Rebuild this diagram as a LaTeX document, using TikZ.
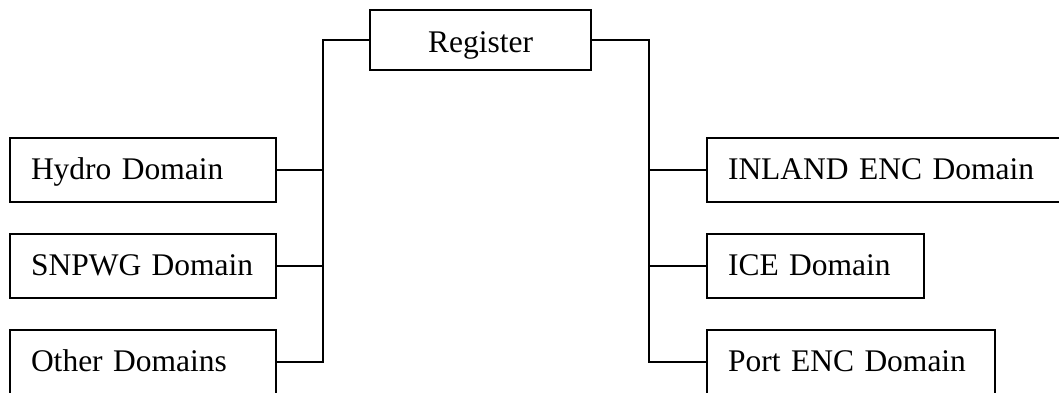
\documentclass[tikz,border=0pt]{standalone}
\usepackage{fontspec}
\setmainfont{Liberation Serif}
\begin{document}
\begin{tikzpicture}[x=1pt,y=-1pt,
  box/.style={draw, line width=2pt, inner ysep=0pt, minimum height=64pt,
    text height=24pt, text depth=5pt, font=\fontsize{31.5}{38}\selectfont},
  lbox/.style={box, anchor=west, inner xsep=21pt, align=left},
  conn/.style={line width=2pt}]
\useasboundingbox (0,0) rectangle (1059,392);
\clip (0,0) rectangle (1059,392);
\node[box, minimum width=221pt, minimum height=60pt, text height=30pt] (reg) at (480.5,39.5) {Register};
\node[lbox, text width=224pt] (hyd) at (9,170) {Hydro Domain};
\node[lbox, text width=224pt] (snp) at (9,266) {SNPWG Domain};
\node[lbox, text width=224pt] (oth) at (9,362) {Other Domains};
\node[lbox, text width=316pt] (inl) at (706,170) {INLAND ENC Domain};
\node[lbox, text width=175pt] (ice) at (706,266) {ICE Domain};
\node[lbox, text width=246pt] (prt) at (706,362) {Port ENC Domain};
\coordinate (lt) at (323,40);
\coordinate (rt) at (649,40);
\draw[conn] (reg.west |- lt) -- (lt) |- (oth.east);
\draw[conn] (hyd.east) -- (hyd.east -| lt);
\draw[conn] (snp.east) -- (snp.east -| lt);
\draw[conn] (reg.east |- rt) -- (rt) |- (prt.west);
\draw[conn] (inl.west) -- (inl.west -| rt);
\draw[conn] (ice.west) -- (ice.west -| rt);
\end{tikzpicture}
\end{document}
